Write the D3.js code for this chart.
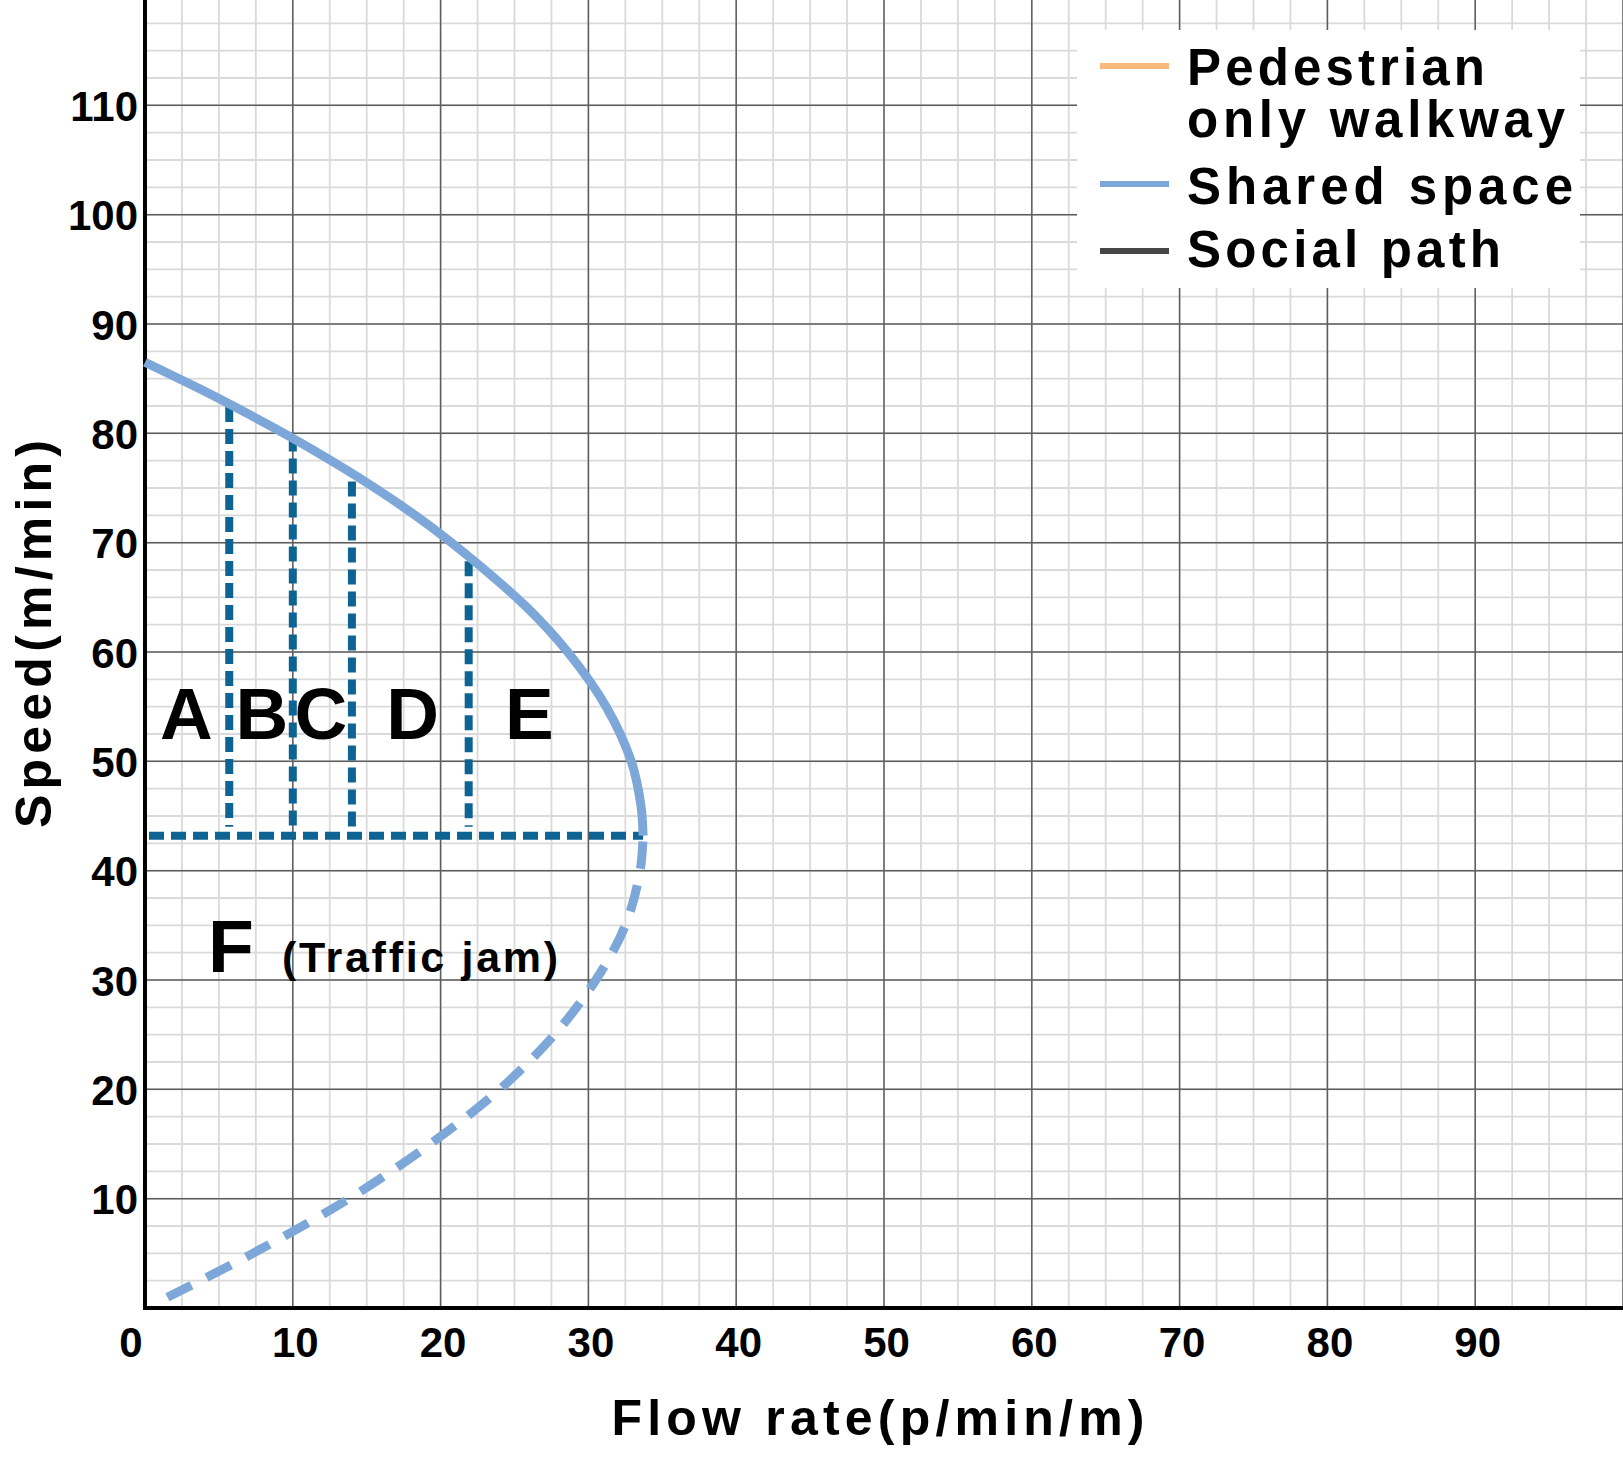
<!DOCTYPE html>
<html>
<head>
<meta charset="utf-8">
<script src="https://cdn.jsdelivr.net/npm/d3@7"></script>
<style>
  html, body { margin: 0; padding: 0; background: #fff; }
  svg { display: block; }
  text { font-family: "Liberation Sans", Arial, sans-serif; font-weight: bold; fill: #000; }
</style>
</head>
<body>
<div id="chart"></div>
<script>
// speed-flow chart, shared space

const width = 1623;
const height = 1463;

// ticks
const xTicks = [0, 10, 20, 30, 40, 50, 60, 70, 80, 90];
const yTicks = [10, 20, 30, 40, 50, 60, 70, 80, 90, 100, 110];

// shared space curve, upper (stable) branch: solid
const flowUpper  = [0, 3.8, 6.1, 9.8, 14.4, 18.8, 22.2, 25.9, 28.6, 31.2, 32.9, 33.55, 33.7];
const speedUpper = [86.5, 84, 82.4, 79.7, 76, 72, 68.4, 64, 60, 55, 50, 46, 43.2];

// lower (congested) branch: dashed
const flowLower  = [33.7, 33.5, 32.5, 30.5, 27.7, 24.0, 19.3, 13.8, 7.3, 1.1];
const speedLower = [43.2, 40, 35, 30, 25, 20, 15, 10, 5, 0.7];

// level of service boundaries
const losFlow  = [5.7, 10, 14, 21.9];
const losSpeed = [82.4, 79.7, 75.6, 68.3];
const jamSpeed = 43.2;
const jamFlow  = 33.7;
const losLetters = ["A", "B", "C", "D", "E"];
const losLetterFlow = [2.8, 7.9, 11.9, 18.1, 26.0];

// legend
const legendNames  = ["Pedestrian|only walkway", "Shared space", "Social path"];
const legendColors = ["#f9b97e", "#7ea7d9", "#464646"];

const svg = d3.select("#chart")
  .append("svg")
  .attr("width", width)
  .attr("height", height);

// scales
const x = d3.scaleLinear().domain([0, 100]).range([145, 1623]);
const y = d3.scaleLinear().domain([0, 120]).range([1308, -4]);

// minor grid (every 2.5)
const minorX = d3.range(0, 100.01, 2.5);
const minorY = d3.range(0, 120.01, 2.5);

const grid = svg.append("g");
grid.selectAll(".mx").data(minorX).enter().append("line")
  .attr("x1", d => x(d)).attr("x2", d => x(d))
  .attr("y1", y(0)).attr("y2", 0)
  .attr("stroke", "#dadada").attr("stroke-width", 1.8);
grid.selectAll(".my").data(minorY).enter().append("line")
  .attr("x1", x(0)).attr("x2", width)
  .attr("y1", d => y(d)).attr("y2", d => y(d))
  .attr("stroke", "#dadada").attr("stroke-width", 1.8);

// major grid (every 10)
grid.selectAll(".Mx").data(d3.range(10, 100.01, 10)).enter().append("line")
  .attr("x1", d => x(d)).attr("x2", d => x(d))
  .attr("y1", y(0)).attr("y2", 0)
  .attr("stroke", "#5e5e5e").attr("stroke-width", 1.5);
grid.selectAll(".My").data(d3.range(10, 120.01, 10)).enter().append("line")
  .attr("x1", x(0)).attr("x2", width)
  .attr("y1", d => y(d)).attr("y2", d => y(d))
  .attr("stroke", "#5e5e5e").attr("stroke-width", 1.5);

// legend box (covers grid)
const lg = svg.append("g");
lg.append("rect")
  .attr("x", 1077).attr("y", 30)
  .attr("width", 503).attr("height", 258)
  .attr("fill", "#fff");

// axes
const yAxis = svg.append("g")
  .attr("transform", `translate(${x(0)},0)`)
  .call(d3.axisLeft(y).tickValues(yTicks).tickSize(0).tickPadding(7));
yAxis.select(".domain").remove();
yAxis.selectAll("text")
  .attr("font-size", "42px")
  .attr("font-family", "Liberation Sans, Arial, sans-serif")
  .attr("font-weight", "bold")
  .attr("fill", "#000")
  .attr("dy", "0.36em");

const xAxis = svg.append("g")
  .attr("transform", `translate(0,${y(0)})`)
  .call(d3.axisBottom(x).tickValues(xTicks).tickSize(0).tickPadding(19));
xAxis.select(".domain").remove();
xAxis.selectAll("text")
  .attr("font-size", "42px")
  .attr("font-family", "Liberation Sans, Arial, sans-serif")
  .attr("font-weight", "bold")
  .attr("fill", "#000")
  .attr("text-anchor", d => d === 0 ? "end" : "middle")
  .attr("dx", d => d === 0 ? "-3px" : "2px");

// axis lines
svg.append("line")
  .attr("x1", x(0)).attr("x2", x(0))
  .attr("y1", 0).attr("y2", y(0) + 2)
  .attr("stroke", "#000").attr("stroke-width", 4);
svg.append("line")
  .attr("x1", x(0) - 2).attr("x2", width)
  .attr("y1", y(0)).attr("y2", y(0))
  .attr("stroke", "#000").attr("stroke-width", 4);

// level of service dashed lines
const los = svg.append("g")
  .attr("stroke", "#0d6392")
  .attr("stroke-width", 8)
  .attr("stroke-dasharray", "15,7");
los.append("line")
  .attr("x1", x(0) + 4).attr("x2", x(jamFlow))
  .attr("y1", y(jamSpeed)).attr("y2", y(jamSpeed));
los.selectAll(".v").data(losFlow).enter().append("line")
  .attr("x1", d => x(d)).attr("x2", d => x(d))
  .attr("y1", (d, i) => y(losSpeed[i])).attr("y2", y(jamSpeed) - 9);

// shared space curve
const upper = flowUpper.map((f, i) => [f, speedUpper[i]]);
const lower = flowLower.map((f, i) => [f, speedLower[i]]);
const line = d3.line()
  .x(d => x(d[0]))
  .y(d => y(d[1]))
  .curve(d3.curveCatmullRom.alpha(0.5));

svg.append("path")
  .datum(upper)
  .attr("d", line)
  .attr("fill", "none")
  .attr("stroke", "#7ea7d9")
  .attr("stroke-width", 9);

svg.append("path")
  .datum(lower)
  .attr("d", line)
  .attr("fill", "none")
  .attr("stroke", "#7ea7d9")
  .attr("stroke-width", 9)
  .attr("stroke-dasharray", "27,17")
  .attr("stroke-dashoffset", -6);

// LOS letters
svg.selectAll(".los").data(losLetters).enter().append("text")
  .attr("x", (d, i) => x(losLetterFlow[i]))
  .attr("y", y(52))
  .attr("text-anchor", "middle")
  .attr("font-size", "73px")
  .text(d => d);

svg.append("text")
  .attr("x", 208).attr("y", 972)
  .attr("font-size", "75px")
  .text("F");
svg.append("text")
  .attr("x", 282).attr("y", 972)
  .attr("font-size", "43px")
  .attr("textLength", 276)
  .attr("lengthAdjust", "spacing")
  .text("(Traffic jam)");

// axis titles
svg.append("text")
  .attr("x", 878).attr("y", 1435)
  .attr("text-anchor", "middle")
  .attr("font-size", "50px")
  .attr("textLength", 533)
  .attr("lengthAdjust", "spacing")
  .text("Flow rate(p/min/m)");

svg.append("text")
  .attr("transform", "translate(51,634) rotate(-90)")
  .attr("text-anchor", "middle")
  .attr("font-size", "50px")
  .attr("textLength", 388)
  .attr("lengthAdjust", "spacing")
  .text("Speed(m/min)");

// legend entries
const legendLineY = [66, 184, 251];
const legendTextY = [85, 204, 267];
const legendTextW = [[298, 378], [386], [314]];

legendNames.forEach((name, i) => {
  lg.append("line")
    .attr("x1", 1100).attr("x2", 1169)
    .attr("y1", legendLineY[i]).attr("y2", legendLineY[i])
    .attr("stroke", legendColors[i])
    .attr("stroke-width", 6);
  name.split("|").forEach((part, j) => {
    lg.append("text")
      .attr("x", 1187)
      .attr("y", legendTextY[i] + j * 52)
      .attr("font-size", "51px")
      .attr("textLength", legendTextW[i][j])
      .attr("lengthAdjust", "spacing")
      .text(part);
  });
});
</script>
</body>
</html>
